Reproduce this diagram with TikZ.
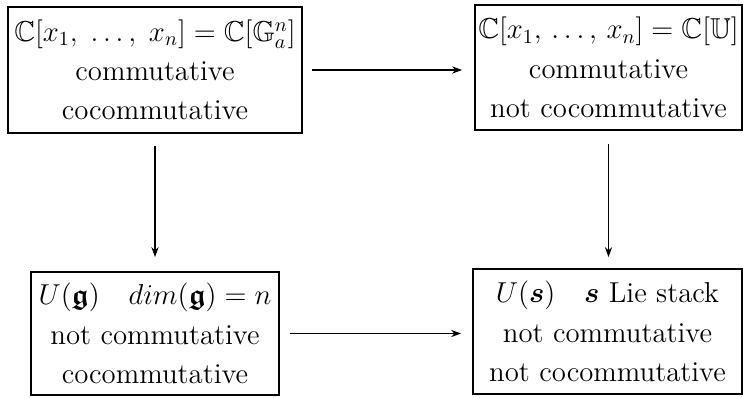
\documentclass[tikz,border=0pt]{standalone}
\usepackage{amsmath,amssymb,bm}
\usetikzlibrary{arrows.meta}
\begin{document}
\begin{tikzpicture}[x=0.5pt,y=-0.5pt,
  box/.style={draw, line width=0.9pt, align=center, inner sep=0pt,
    font=\fontsize{14.4}{19.6}\selectfont},
  arr/.style={line width=0.6pt, -{Stealth[length=5pt,width=3.6pt]}}]
\useasboundingbox (0,0) rectangle (744,397);
\node[box, minimum width=147pt, minimum height=63pt] (tl) at (155,70)
  {$\mathbb{C}[x_1,\;\ldots,\;x_n]=\mathbb{C}[\mathbb{G}_a^n]$\\commutative\\cocommutative};
\node[box, minimum width=133.5pt, minimum height=62.5pt] (tr) at (608.5,67.5)
  {$\mathbb{C}[x_1,\,\ldots,\,x_n]=\mathbb{C}[\mathbb{U}]$\\commutative\\not cocommutative};
\node[box, minimum width=124pt, minimum height=61.5pt] (bl) at (155,333.5)
  {$U(\bm{\mathfrak{g}})\quad dim(\bm{\mathfrak{g}})=n$\\not commutative\\cocommutative};
\node[box, minimum width=134.5pt, minimum height=62.5pt] (br) at (607.5,331.5)
  {$U(\bm{s})\quad \bm{s}$ Lie stack\\not commutative\\not cocommutative};
\draw[arr, shorten <=4.5pt, shorten >=6pt] (tl.east) -- (tl.east -| tr.west);
\draw[arr, shorten <=5pt, shorten >=5.5pt] (bl.east) -- (bl.east -| br.west);
\draw[arr, shorten <=6pt, shorten >=7pt] (tl.south -| bl.north) -- (bl.north);
\draw[arr, shorten <=6.5pt, shorten >=5.5pt] (tr.south) -- (tr.south |- br.north);
\end{tikzpicture}
\end{document}
